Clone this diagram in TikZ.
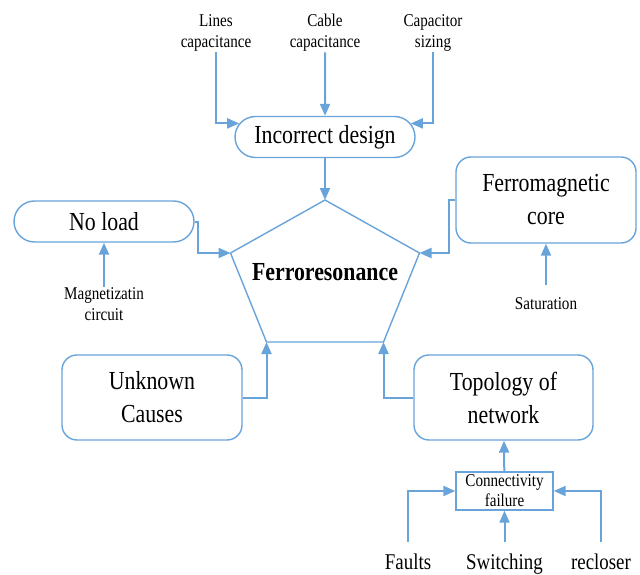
\documentclass[tikz,border=0pt]{standalone}
\usepackage{fontspec}
\setmainfont{Liberation Serif}[FakeStretch=0.84]
\usepackage{tikz}
\usetikzlibrary{arrows.meta, shapes.misc}
\definecolor{linkblue}{RGB}{104, 164, 218}

\begin{document}
\begin{tikzpicture}[x=1pt, y=-1pt, >={Triangle[length=12pt, width=10pt]},
   pill/.style={draw=linkblue, line width=1.4pt, rounded rectangle, minimum width=180pt, minimum height=41pt, inner sep=0pt, font=\fontsize{26}{33}\selectfont},
   rbox/.style={draw=linkblue, line width=1.4pt, rounded corners=15pt, minimum width=180pt, minimum height=85pt, align=center, font=\fontsize{26}{33}\selectfont},
   lbl/.style={align=center, inner sep=1pt, font=\fontsize{18}{21}\selectfont},
   botlbl/.style={inner sep=1pt, anchor=base, font=\fontsize{22.5}{26}\selectfont},
   arr/.style={->, draw=linkblue, line width=2pt},
   penta/.style={draw=linkblue, line width=1.4pt}]
  \useasboundingbox (0,0) rectangle (640,575);
  % pentagon in the middle
  \coordinate (pt) at (325,200); \coordinate (pl) at (230.5,253); \coordinate (pr) at (419.5,253);
  \coordinate (pbl) at (266.5,342); \coordinate (pbr) at (383.5,342);
  \draw[penta] (pt) -- (pr) -- (pbr) -- (pbl) -- (pl) -- cycle;
  \node[font=\fontsize{26}{30}\selectfont\bfseries] (ferro) at (325,272) {Ferroresonance};
  % boxes
  \node[pill] (design) at (325,137) {Incorrect design};
  \node[pill] (noload) at (104,221.5) {No load};
  \node[rbox, minimum height=86pt] (core) at (546,200) {Ferromagnetic\\core};
  \node[rbox] (unknown) at (152,397.5) {Unknown\\Causes};
  \node[rbox, minimum width=179pt] (topo) at (503.5,397.5) {Topology of\\network};
  \node[draw=linkblue, line width=1.4pt, minimum width=97pt, minimum height=38pt, align=center, inner sep=0pt,
        font=\fontsize{18}{20}\selectfont] (conn) at (504.5,491) {Connectivity\\failure};
  % small labels
  \node[lbl] (lines) at (216,32.5) {Lines\\capacitance};
  \node[lbl] (cable) at (325,32.5) {Cable\\capacitance};
  \node[lbl] (capsz) at (433,32.5) {Capacitor\\sizing};
  \node[lbl] (magn) at (104,304.5) {Magnetizatin\\circuit};
  \node[lbl] (satur) at (546,303.5) {Saturation};
  \node[botlbl] (faults) at (408,569) {Faults};
  \node[botlbl] (switch) at (504.5,569) {Switching};
  \node[botlbl] (recl) at (601,569) {recloser};
  % connectors
  \draw[arr] (lines.south) |- (design.171); \draw[arr] (cable) -- (design); \draw[arr] (capsz.south) |- (design.9);
  \draw[arr] (design) -- (pt);
  \draw[arr] (noload.east) -- ++(3,0) |- (pl);
  \draw[arr] (magn) -- (noload);
  \draw[arr] (core.west) -- ++(-6,0) |- (pr);
  \draw[arr, shorten <=11pt] (satur) -- (core);
  \draw[arr] (unknown.east) -| (pbl);
  \draw[arr] (topo.west) -| (pbr);
  \draw[arr] (conn) -- (topo);
  \draw[arr, shorten <=10pt] (faults.north) |- (conn.west);
  \draw[arr, shorten <=10pt] (switch.north) -- (conn.south);
  \draw[arr, shorten <=10pt] (recl.north) |- (conn.east);
\end{tikzpicture}
\end{document}
